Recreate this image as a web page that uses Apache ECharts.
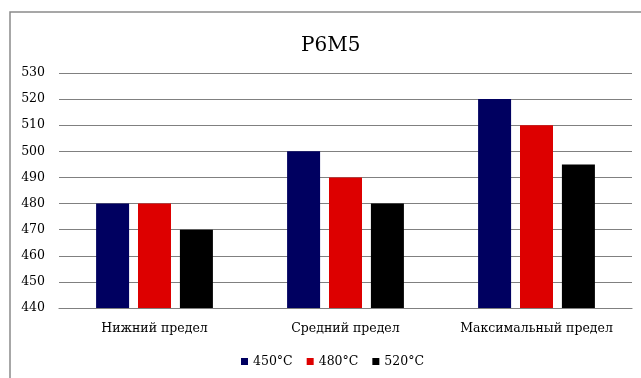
<!DOCTYPE html>
<html>
<head>
<meta charset="utf-8">
<script src="https://cdn.jsdelivr.net/npm/echarts@6/dist/echarts.min.js"></script>
<style>
  html, body { margin: 0; padding: 0; background: #fff; }
  #chart { width: 641px; height: 378px; }
</style>
</head>
<body>
<div id="chart"></div>
<script>
// Hardness limits for steel Р6М5 at three tempering temperatures
const categories = ['Нижний предел', 'Средний предел', 'Максимальный предел'];
const seriesNames = ['450°C', '480°C', '520°C'];
const values450 = [480, 500, 520];
const values480 = [480, 490, 510];
const values520 = [470, 480, 495];
const yTicks = { min: 440, max: 530, step: 10 };

const colors = ['#000060', '#dd0000', '#000000'];
const seriesValues = [values450, values480, values520];
const font = '"DejaVu Serif", "Liberation Serif", serif';

const chart = echarts.init(document.getElementById('chart'), null, { renderer: 'canvas' });

chart.setOption({
  animation: false,
  backgroundColor: '#ffffff',
  textStyle: { fontFamily: font, color: '#000' },
  graphic: [{
    type: 'rect',
    shape: { x: 10, y: 12, width: 700, height: 500 },
    style: { fill: 'none', stroke: '#8a8a8a', lineWidth: 1.5 },
    silent: true,
    z: -1
  }],
  title: {
    text: 'Р6М5',
    left: 296,
    top: 31,
    textStyle: { fontFamily: font, fontSize: 20, fontWeight: 'normal', color: '#000' }
  },
  legend: {
    data: seriesNames,
    top: 350,
    left: 236,
    itemWidth: 7,
    itemHeight: 7,
    itemGap: 14,
    icon: 'rect',
    textStyle: { fontFamily: font, fontSize: 12.5, color: '#000' }
  },
  grid: { left: 59, right: 9, top: 73, bottom: 70, containLabel: false },
  xAxis: {
    type: 'category',
    data: categories,
    axisLine: { show: true, lineStyle: { color: '#808080', width: 1.2 } },
    axisTick: { show: false },
    axisLabel: { interval: 0, fontFamily: font, fontSize: 12.5, color: '#000', margin: 14 }
  },
  yAxis: {
    type: 'value',
    min: yTicks.min,
    max: yTicks.max,
    interval: yTicks.step,
    axisLine: { show: false },
    axisTick: { show: false },
    axisLabel: { fontFamily: font, fontSize: 12.5, color: '#000', margin: 14 },
    splitLine: { lineStyle: { color: '#808080', width: 1.2 } }
  },
  series: seriesNames.map((name, i) => ({
    name,
    type: 'bar',
    data: seriesValues[i],
    barWidth: 33,
    barGap: '27%',
    itemStyle: { color: colors[i] }
  }))
});
</script>
</body>
</html>
